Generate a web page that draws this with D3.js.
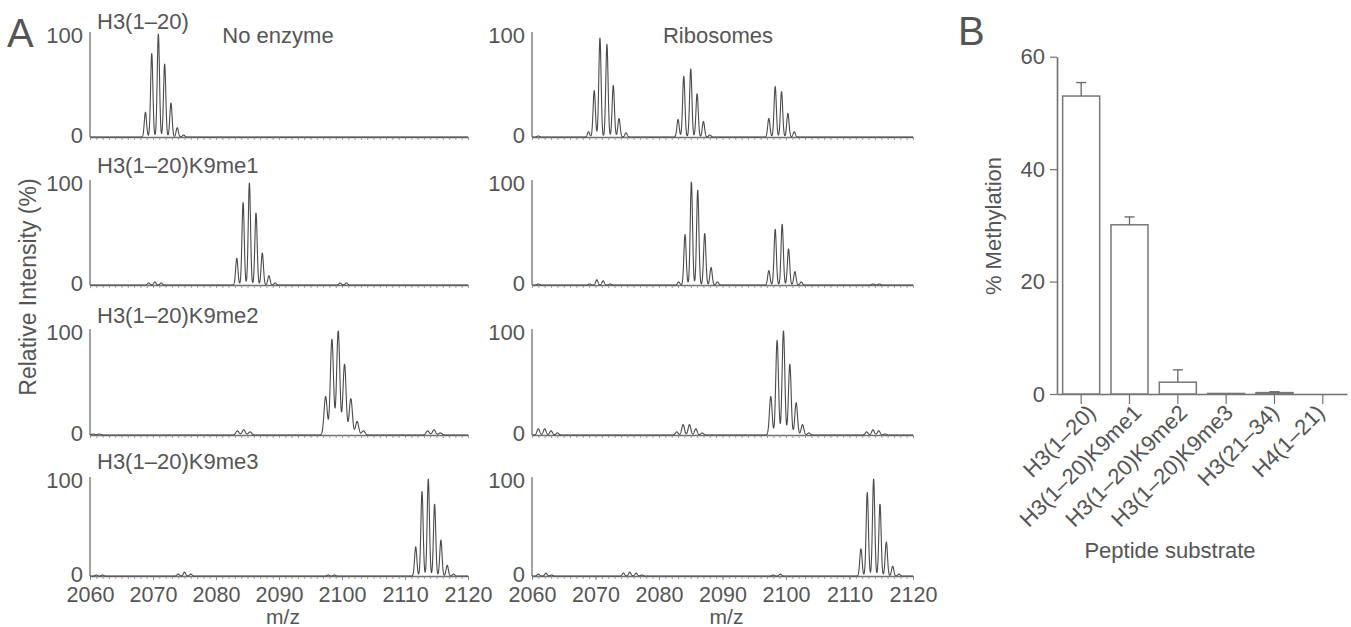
<!DOCTYPE html>
<html>
<head>
<meta charset="utf-8">
<script src="https://cdn.jsdelivr.net/npm/d3@7"></script>
<style>
body { margin: 0; background: #fff; }
svg text { font-family: "Liberation Sans", Arial, sans-serif; fill: #555; }
</style>
</head>
<body>
<svg id="chart" width="1351" height="627"></svg>
<script>
// ---- data ----
var mzTicks = [2060, 2070, 2080, 2090, 2100, 2110, 2120];
var conditions = ["No enzyme", "Ribosomes"];
var peptides = ["H3(1\u201320)", "H3(1\u201320)K9me1", "H3(1\u201320)K9me2", "H3(1\u201320)K9me3"];

// peak lists [m/z, relative intensity %]
var noEnzymeH3 = [[2068.8, 24], [2069.8, 81], [2070.85, 100], [2071.85, 71], [2072.85, 33], [2073.85, 9], [2074.85, 2]];
var noEnzymeK9me1 = [[2069.3, 2], [2070.3, 3], [2071.3, 2], [2083.3, 26], [2084.3, 80], [2085.3, 99], [2086.35, 70],
    [2087.35, 31], [2088.4, 9], [2089.4, 2], [2099.7, 2], [2100.7, 2]];
var noEnzymeK9me2 = [[2060.5, 1], [2061.5, 1], [2083.4, 4], [2084.4, 5], [2085.4, 3], [2097.4, 37], [2098.4, 92],
    [2099.4, 100], [2100.4, 68], [2101.4, 35], [2102.4, 13], [2103.4, 4], [2113.6, 4], [2114.6, 5], [2115.6, 2]];
var noEnzymeK9me3 = [[2061.0, 1], [2062.0, 1], [2074.0, 2], [2075.0, 4], [2076.0, 2], [2097.8, 1], [2098.8, 1],
    [2111.7, 30], [2112.7, 87], [2113.7, 100], [2114.7, 74], [2115.7, 37], [2116.7, 11], [2117.7, 2]];

var ribosomeH3 = [[2061.0, 1], [2068.9, 5], [2069.8, 45], [2070.7, 96], [2071.8, 90], [2072.8, 50], [2073.7, 18], [2074.8, 4],
    [2083.0, 17], [2083.9, 59], [2085.0, 66], [2086.0, 42], [2087.0, 15], [2088.0, 2],
    [2097.3, 18], [2098.3, 49], [2099.3, 44], [2100.3, 23], [2101.3, 5]];
var ribosomeK9me1 = [[2061.0, 1], [2069.1, 1], [2070.2, 5], [2071.2, 4], [2072.3, 1],
    [2083.1, 3], [2084.1, 49], [2085.1, 100], [2086.1, 92], [2087.2, 50], [2088.2, 17], [2089.2, 3],
    [2097.3, 14], [2098.3, 54], [2099.4, 59], [2100.4, 35], [2101.4, 13], [2102.4, 3], [2113.7, 1], [2114.7, 1]];
var ribosomeK9me2 = [[2061.0, 6], [2062.0, 6], [2063.0, 4], [2064.0, 2],
    [2082.8, 3], [2083.8, 10], [2084.8, 10], [2085.8, 6], [2086.8, 2],
    [2097.6, 37], [2098.6, 91], [2099.6, 100], [2100.6, 68], [2101.6, 31], [2102.6, 10], [2103.6, 2],
    [2112.7, 3], [2113.7, 5], [2114.6, 4], [2115.6, 1]];
var ribosomeK9me3 = [[2061.0, 2], [2062.2, 3], [2063.1, 1], [2074.4, 3], [2075.4, 4], [2076.4, 3], [2077.3, 1],
    [2098.0, 1], [2099.1, 2],
    [2111.8, 28], [2112.8, 86], [2113.8, 100], [2114.8, 74], [2115.8, 35], [2116.8, 10], [2117.8, 2]];

var spectra = [
    [noEnzymeH3, noEnzymeK9me1, noEnzymeK9me2, noEnzymeK9me3],
    [ribosomeH3, ribosomeK9me1, ribosomeK9me2, ribosomeK9me3]
];
// peak width (sigma, in m/z) of each trace
var peakSigma = [
    [0.18, 0.18, 0.25, 0.18],
    [0.18, 0.18, 0.21, 0.18]
];

// panel B
var substrates = ["H3(1\u201320)", "H3(1\u201320)K9me1", "H3(1\u201320)K9me2", "H3(1\u201320)K9me3", "H3(21\u201334)", "H4(1\u201321)"];
var methylation = [53.0, 30.1, 2.1, 0.1, 0.25, 0];
var methylationErr = [2.4, 1.4, 2.2, 0, 0.15, 0];
var methylationTicks = [0, 20, 40, 60];

// ---- layout ----
var svg = d3.select("#chart");
var grey = "#555";
var axisGrey = "#707070";

var rows = [
    { top: 34, zero: 137, labelY: 29 },
    { top: 182, zero: 285, labelY: 173 },
    { top: 331, zero: 435, labelY: 323 },
    { top: 479, zero: 576, labelY: 469 }
];
var cols = [{ x0: 90, x1: 468, titleX: 278 }, { x0: 532, x1: 913, titleX: 718 }];

// panel letters
svg.append("text").attr("x", 7).attr("y", 47).style("font-size", "40px").text("A");
svg.append("text").attr("x", 958).attr("y", 45).style("font-size", "40px").text("B");

// y label of panel A
svg.append("text")
    .attr("transform", "translate(36,287) rotate(-90)")
    .attr("text-anchor", "middle")
    .style("font-size", "23px")
    .text("Relative Intensity (%)");

var mzGrid = d3.range(2060, 2120.0001, 0.02);

cols.forEach(function (col, c) {
    var x = d3.scaleLinear().domain([2060, 2120]).range([col.x0, col.x1]);

    // column title
    svg.append("text")
        .attr("x", col.titleX).attr("y", 43)
        .attr("text-anchor", "middle")
        .style("font-size", "22px")
        .text(conditions[c]);

    rows.forEach(function (row, r) {
        var y = d3.scaleLinear().domain([0, 100]).range([row.zero, row.top]);
        var g = svg.append("g");

        // minor ticks every 1 m/z
        var xAxis = d3.axisBottom(x)
            .tickValues(d3.range(2060, 2121, 1))
            .tickSize(3)
            .tickSizeOuter(0)
            .tickFormat("");
        var ax = g.append("g").attr("transform", "translate(0," + row.zero + ")").call(xAxis);
        ax.select(".domain").attr("stroke", axisGrey).attr("stroke-width", 1.3);
        ax.selectAll(".tick line").attr("stroke", "#888").attr("stroke-width", 0.8);

        // bottom row gets the labelled ticks
        if (r === rows.length - 1) {
            var lab = g.append("g").attr("transform", "translate(0," + row.zero + ")")
                .call(d3.axisBottom(x).tickValues(mzTicks).tickFormat(d3.format("d"))
                    .tickSize(4).tickPadding(7).tickSizeOuter(0));
            lab.select(".domain").remove();
            lab.selectAll(".tick line").attr("stroke", "#888");
            lab.selectAll(".tick text").style("font-size", "21.5px")
                .attr("fill", grey)
                .style("font-family", "'Liberation Sans', Arial, sans-serif");
            svg.append("text")
                .attr("x", (col.x0 + col.x1) / 2 + 4).attr("y", 624)
                .attr("text-anchor", "middle")
                .style("font-size", "21px")
                .text("m/z");
        }

        // y axis line and the two labels
        g.append("line")
            .attr("x1", col.x0).attr("x2", col.x0)
            .attr("y1", row.zero).attr("y2", y(100) - 2)
            .attr("stroke", axisGrey).attr("stroke-width", 1.3);
        g.selectAll("text.ylab")
            .data([100, 0])
            .enter().append("text")
            .attr("class", "ylab")
            .attr("x", col.x0 - 7)
            .attr("y", function (d) { return d === 100 ? y(d) + 1 : y(d) - 2; })
            .attr("dy", "0.36em")
            .attr("text-anchor", "end")
            .style("font-size", "22px")
            .text(function (d) { return d; });

        // spectrum trace built from the peak list
        var peaks = spectra[c][r];
        var sigma = peakSigma[c][r];
        var trace = mzGrid.map(function (mz) {
            var v = 0;
            peaks.forEach(function (p) {
                var d = (mz - p[0]) / sigma;
                if (Math.abs(d) < 6) v += p[1] * Math.exp(-0.5 * d * d);
            });
            return [mz, Math.min(v, 100)];
        });
        var line = d3.line()
            .x(function (d) { return x(d[0]); })
            .y(function (d) { return y(d[1]); });
        g.append("path")
            .datum(trace)
            .attr("d", line)
            .attr("fill", "none")
            .attr("stroke", "#4a4a4a")
            .attr("stroke-width", 1.1)
            .attr("stroke-linejoin", "round");

        // peptide name on the left column
        if (c === 0) {
            svg.append("text")
                .attr("x", 97).attr("y", row.labelY)
                .style("font-size", "22px")
                .text(peptides[r]);
        }
    });
});

// ---- panel B : bar chart ----
var bx = d3.scaleBand().domain(substrates).range([1057, 1347]).paddingInner(0.234).paddingOuter(0.117);
var by = d3.scaleLinear().domain([0, 60]).range([394, 56.7]);
var labelX = d3.scalePoint().domain(substrates).range([1097, 1326]);

var gb = svg.append("g");

var yAx = gb.append("g").attr("transform", "translate(1057,0)")
    .call(d3.axisLeft(by).tickValues(methylationTicks).tickSize(7).tickPadding(5).tickSizeOuter(0));
yAx.select(".domain").attr("stroke", axisGrey).attr("stroke-width", 1.6);
yAx.selectAll(".tick line").attr("stroke", axisGrey).attr("stroke-width", 1.2);
yAx.selectAll(".tick text").style("font-size", "22px").attr("fill", grey)
    .style("font-family", "'Liberation Sans', Arial, sans-serif");

var xAx = gb.append("g").attr("transform", "translate(0,394)")
    .call(d3.axisBottom(bx).tickSize(10).tickSizeOuter(0).tickFormat(""));
xAx.select(".domain").attr("stroke", axisGrey).attr("stroke-width", 1.6);
xAx.selectAll(".tick line").attr("stroke", axisGrey).attr("stroke-width", 1.2);

// bars
gb.selectAll("rect.bar")
    .data(substrates)
    .enter().append("rect")
    .attr("class", "bar")
    .attr("x", function (d) { return bx(d); })
    .attr("y", function (d, i) { return by(methylation[i]); })
    .attr("width", bx.bandwidth())
    .attr("height", function (d, i) { return by(0) - by(methylation[i]); })
    .attr("fill", "#fff")
    .attr("stroke", "#777")
    .attr("stroke-width", 1.5);

// error bars (upper only)
substrates.forEach(function (d, i) {
    if (methylationErr[i] <= 0) return;
    var cx = bx(d) + bx.bandwidth() / 2;
    var top = by(methylation[i] + methylationErr[i]);
    gb.append("line")
        .attr("x1", cx).attr("x2", cx)
        .attr("y1", by(methylation[i])).attr("y2", top)
        .attr("stroke", "#666").attr("stroke-width", 1.3);
    gb.append("line")
        .attr("x1", cx - 5).attr("x2", cx + 5)
        .attr("y1", top).attr("y2", top)
        .attr("stroke", "#666").attr("stroke-width", 1.3);
});

// rotated category labels
gb.selectAll("text.cat")
    .data(substrates)
    .enter().append("text")
    .attr("class", "cat")
    .attr("transform", function (d) { return "translate(" + labelX(d) + ",414) rotate(-45)"; })
    .attr("text-anchor", "end")
    .style("font-size", "22px")
    .text(function (d) { return d; });

svg.append("text")
    .attr("transform", "translate(1001,226) rotate(-90)")
    .attr("text-anchor", "middle")
    .style("font-size", "22px")
    .text("% Methylation");

svg.append("text")
    .attr("x", 1170).attr("y", 558)
    .attr("text-anchor", "middle")
    .style("font-size", "22px")
    .text("Peptide substrate");
</script>
</body>
</html>
